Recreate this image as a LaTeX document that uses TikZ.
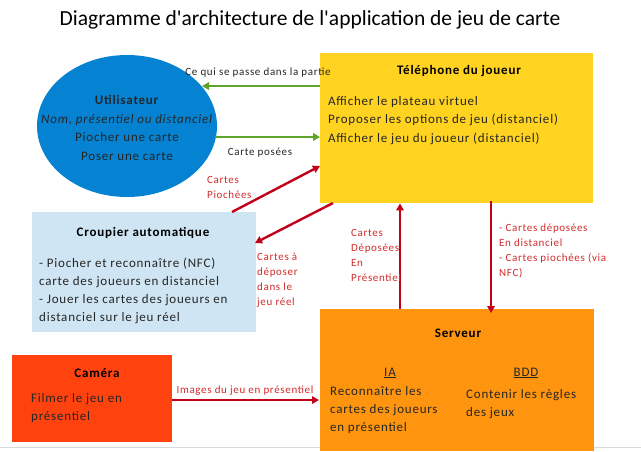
\documentclass[tikz,border=0pt]{standalone}
\usepackage{fontspec}
\setmainfont{Carlito}[Ligatures=TeXOff]
\newfontfamily\spaced{Carlito}[LetterSpace=6,Ligatures=TeXOff]
\usetikzlibrary{shapes.geometric,arrows.meta}
\definecolor{ublue}{HTML}{0583D2}
\definecolor{phoneyellow}{HTML}{FFD320}
\definecolor{servorange}{HTML}{FF950E}
\definecolor{camred}{HTML}{FF420E}
\definecolor{croupblue}{HTML}{CFE5F3}
\definecolor{agreen}{HTML}{5EA429}
\definecolor{ared}{HTML}{C3001A}
\definecolor{tred}{HTML}{D42B2B}
\definecolor{tdark}{HTML}{262626}
\tikzset{
  boxnode/.style={draw=none, rectangle, anchor=north west, inner sep=0pt},
  txt/.style={inner sep=0pt, align=left, anchor=west, font=\spaced\fontsize{13}{18.2}\selectfont, text=tdark},
  ttl/.style={inner sep=0pt, font=\spaced\bfseries\fontsize{13}{15}\selectfont, text=black},
  lbl/.style={inner sep=0pt, align=left, font=\spaced\fontsize{11}{15}\selectfont, text=tred},
  garrow/.style={draw=agreen, line width=2.4pt, -{Triangle[length=7pt,width=7.5pt]}},
  rarrow/.style={draw=ared, line width=2.4pt, -{Triangle[length=7pt,width=7.5pt]}},
}
\begin{document}
\begin{tikzpicture}[x=1pt,y=-1pt]
\useasboundingbox (0,0) rectangle (641,451);
\fill[white] (0,0) rectangle (641,451);
\draw[draw=black!15, line width=1.5pt] (0,447.5) -- (641,447.5);

% title
\node[inner sep=0pt, font=\fontsize{21.5}{25}\selectfont] (title) at (310,20) {Diagramme d'architecture de l'application de jeu de carte};

% Utilisateur
\node[ellipse, fill=ublue, draw=none, minimum width=180pt, minimum height=142pt, inner sep=0pt] (user) at (127,126) {};
\node[inner sep=0pt, align=center, font=\spaced\fontsize{13}{18.4}\selectfont, text=tdark] (usertxt) at (127,128) {\textbf{Utilisateur}\\ \textit{Nom, présentiel ou distanciel}\\ Piocher une carte\\ Poser une carte};

% Telephone
\node[boxnode, fill=phoneyellow, minimum width=273pt, minimum height=150pt] (phone) at (320,53) {};
\node[ttl] (phonettl) at (459,71) {Téléphone du joueur};
\node[txt] (phonetxt) at (328,120.5) {Afficher le plateau virtuel\\ Proposer les options de jeu (distanciel)\\ Afficher le jeu du joueur (distanciel)};

% Croupier
\node[boxnode, fill=croupblue, minimum width=224pt, minimum height=120pt] (croup) at (32,212) {};
\node[ttl] (croupttl) at (143,233) {Croupier automatique};
\node[txt, font=\spaced\fontsize{13}{18}\selectfont] (crouptxt) at (39,291) {- Piocher et reconnaître (NFC)\\ carte des joueurs en distanciel\\ - Jouer les cartes des joueurs en\\ distanciel sur le jeu réel};

% Serveur
\node[boxnode, fill=servorange, minimum width=274pt, minimum height=142pt] (serv) at (320,309) {};
\node[ttl] (servttl) at (458,333) {Serveur};
\node[inner sep=0pt, font=\spaced\fontsize{13}{15}\selectfont, text=tdark] (ia) at (390,373) {\underline{IA}};
\node[inner sep=0pt, font=\spaced\fontsize{13}{15}\selectfont, text=tdark] (bdd) at (526,373) {\underline{BDD}};
\node[txt] (iatxt) at (330,410) {Reconnaître les\\ cartes des joueurs\\ en présentiel};
\node[txt] (bddtxt) at (466,404) {Contenir les règles\\ des jeux};

% Camera
\node[boxnode, fill=camred, minimum width=160pt, minimum height=87pt] (cam) at (12,355) {};
\node[ttl] (camttl) at (97,373) {Caméra};
\node[txt] (camtxt) at (31,408) {Filmer le jeu en\\ présentiel};

% connectors
\coordinate (g1e) at (202,86);
\draw[garrow] (phone.west |- g1e) -- (g1e);
\node[lbl, text=tdark] (g1l) at (258,73) {Ce qui se passe dans la partie};

\coordinate (g2s) at (215,137);
\draw[garrow] (g2s) -- (phone.west |- g2s);
\node[lbl, text=tdark] (g2l) at (260,153) {Carte posées};

\coordinate (r1s) at (232,212);
\coordinate (r1e) at (320,166);
\draw[rarrow] (r1s) -- (r1e);
\node[lbl, anchor=west] (r1l) at (207,187.5) {Cartes\\ Piochées};

\coordinate (r2s) at (333,203);
\coordinate (r2e) at (255,243);
\draw[rarrow] (r2s) -- (r2e);
\node[lbl, anchor=west] (r2l) at (257,280) {Cartes à\\ déposer\\ dans le\\ jeu réel};

\coordinate (r3x) at (400,0);
\draw[rarrow] (serv.north -| r3x) -- (phone.south -| r3x);
\node[lbl, anchor=west] (r3l) at (351,255.5) {Cartes\\ Déposées\\ En\\ Présentiel};

\coordinate (r4x) at (491,0);
\draw[rarrow] ([yshift=2pt]phone.south -| r4x) -- ([yshift=-4pt]serv.north -| r4x);
\node[lbl, anchor=west] (r4l) at (499,251) {- Cartes déposées\\ En distanciel\\ - Cartes piochées (via\\ NFC)};

\coordinate (r5y) at (0,400);
\draw[rarrow] (cam.east |- r5y) -- ([xshift=-1pt]serv.west |- r5y);
\node[lbl] (r5l) at (245,391) {Images du jeu en présentiel};
\end{tikzpicture}
\end{document}
